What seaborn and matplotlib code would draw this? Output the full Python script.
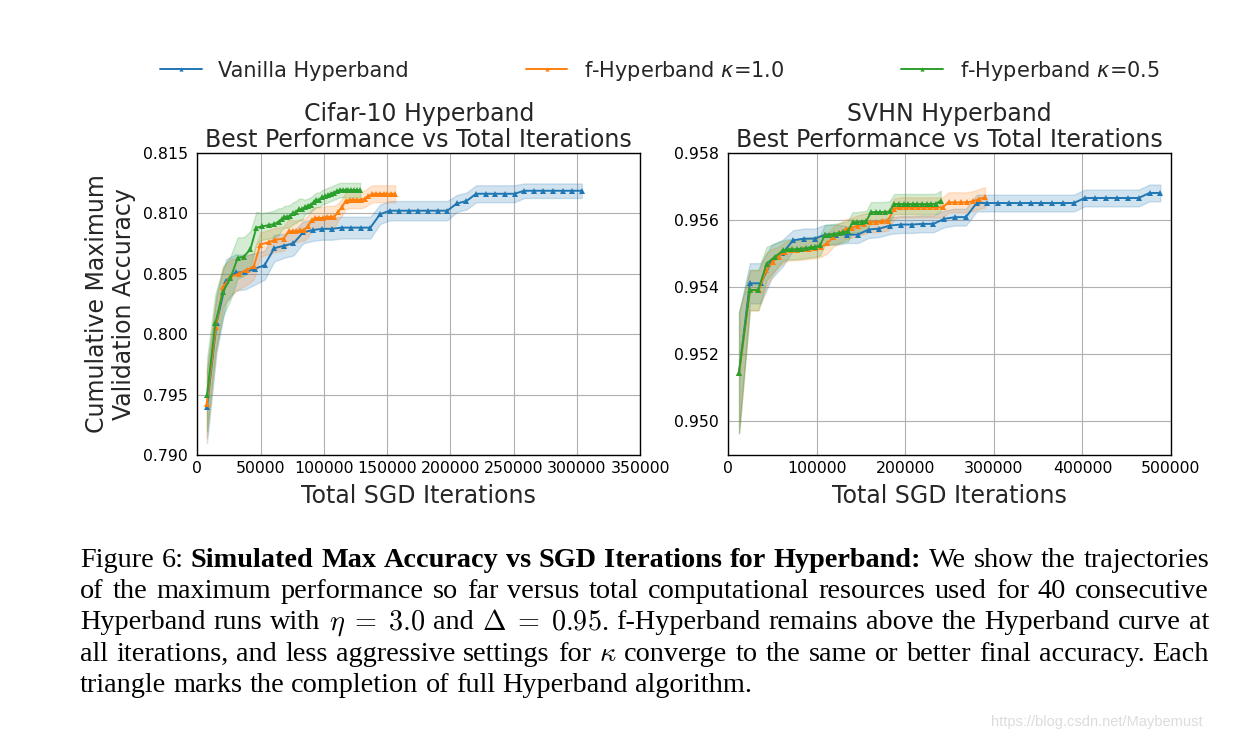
import matplotlib
matplotlib.use("Agg")
import matplotlib.pyplot as plt
import matplotlib.transforms as mtransforms
import pandas as pd
import seaborn as sns

# Legend / series names
methods = ["Vanilla Hyperband", "f-Hyperband $\\kappa$=1.0", "f-Hyperband $\\kappa$=0.5"]
colors = ["#1f77b4", "#ff7f0e", "#2ca02c"]

# Cifar-10 (left panel)
cifar_x_vanilla = [7600, 15200, 22800, 30400, 38000, 45600, 53200, 60800, 68400, 76000,
                   83600, 91200, 98800, 106400, 114000, 121600, 129200, 136800, 144400, 152000,
                   159600, 167200, 174800, 182400, 190000, 197600, 205200, 212800, 220400, 228000,
                   235600, 243200, 250800, 258400, 266000, 273600, 281200, 288800, 296400, 304000]
cifar_y_vanilla = [0.7940, 0.8009, 0.8044, 0.8051, 0.8051, 0.8054, 0.8057, 0.8071, 0.8073, 0.8075,
                   0.8084, 0.8086, 0.8087, 0.8087, 0.8088, 0.8088, 0.8088, 0.8088, 0.8099, 0.8102,
                   0.8102, 0.8102, 0.8102, 0.8102, 0.8102, 0.8102, 0.8108, 0.8110, 0.8116, 0.8116,
                   0.8116, 0.8116, 0.8116, 0.81185, 0.81185, 0.81185, 0.81185, 0.81185, 0.81185, 0.81185]
cifar_err_vanilla = [0.0030, 0.0024, 0.0018, 0.0015, 0.0014, 0.0013, 0.0012, 0.0011, 0.0010, 0.0010,
                     0.0009, 0.0009, 0.0009, 0.0009, 0.0009, 0.0009, 0.0009, 0.0009, 0.0008, 0.0008,
                     0.0008, 0.0008, 0.0008, 0.0008, 0.0008, 0.0008, 0.0007, 0.0007, 0.0007, 0.0007,
                     0.0007, 0.0007, 0.0007, 0.0006, 0.0006, 0.0006, 0.0006, 0.0006, 0.0006, 0.0006]

cifar_x_k10 = [7400, 14600, 20300, 26100, 32700, 39300, 44600, 49800, 56400, 61700,
               68300, 72300, 75300, 78300, 81300, 84300, 87300, 90300, 93300, 96300,
               99300, 102300, 105300, 108300, 111300, 114300, 117300, 120300, 123300, 126300,
               129300, 132300, 135300, 138300, 141300, 144300, 147300, 150300, 153300, 156300]
cifar_y_k10 = [0.7942, 0.8006, 0.8039, 0.8047, 0.8050, 0.8053, 0.8056, 0.8074, 0.8076, 0.8078,
               0.8079, 0.8085, 0.8085, 0.8085, 0.8086, 0.8086, 0.8089, 0.8094, 0.8096, 0.8096,
               0.8096, 0.8097, 0.8097, 0.8097, 0.8101, 0.8105, 0.8110, 0.8111, 0.8111, 0.8111,
               0.8111, 0.8112, 0.8114, 0.8116, 0.8116, 0.8116, 0.8116, 0.8116, 0.8116, 0.8116]
cifar_err_k10 = [0.0028, 0.0022, 0.0017, 0.0015, 0.0013, 0.0012, 0.0011, 0.0010, 0.0010, 0.0010,
                 0.0010, 0.0010, 0.0009, 0.0009, 0.0009, 0.0009, 0.0009, 0.0009, 0.0009, 0.0009,
                 0.0009, 0.0009, 0.0009, 0.0009, 0.0007, 0.0007, 0.0007, 0.0007, 0.0007, 0.0007,
                 0.0007, 0.0007, 0.0007, 0.0007, 0.0007, 0.0007, 0.0007, 0.0007, 0.0007, 0.0007]

cifar_x_k05 = [7700, 14200, 20300, 26100, 31900, 36700, 41900, 46700, 51200, 56400,
               60900, 64300, 66600, 68900, 71200, 73500, 75800, 78100, 80400, 82700,
               85000, 87300, 89600, 91900, 94200, 96500, 98800, 101100, 103400, 105700,
               108000, 110300, 112600, 114900, 117200, 119500, 121800, 124100, 126400, 128700]
cifar_y_k05 = [0.7950, 0.8009, 0.8035, 0.8046, 0.8063, 0.8064, 0.8070, 0.8088, 0.8089, 0.8090,
               0.8091, 0.8093, 0.8095, 0.8097, 0.8097, 0.8098, 0.8100, 0.8101, 0.8103, 0.8103,
               0.8105, 0.8106, 0.8107, 0.8109, 0.8111, 0.8111, 0.8113, 0.8114, 0.8115, 0.8116,
               0.8117, 0.8118, 0.8119, 0.8119, 0.8119, 0.8119, 0.8119, 0.8119, 0.8119, 0.8119]
cifar_err_k05 = [0.0030, 0.0024, 0.0020, 0.0018, 0.0017, 0.0016, 0.0015, 0.0013, 0.0011, 0.0011,
                 0.0011, 0.0011, 0.0009, 0.0009, 0.0009, 0.0009, 0.0009, 0.0009, 0.0009, 0.0009,
                 0.0006, 0.0006, 0.0006, 0.0006, 0.0006, 0.0006, 0.0006, 0.0006, 0.0006, 0.0006,
                 0.0006, 0.0006, 0.0006, 0.0006, 0.0006, 0.0006, 0.0006, 0.0006, 0.0006, 0.0006]

# SVHN (right panel)
svhn_x_vanilla = [12200, 24400, 36600, 48800, 61000, 73200, 85400, 97600, 109800, 122000,
                  134200, 146400, 158600, 170800, 183000, 195200, 207400, 219600, 231800, 244000,
                  256200, 268400, 280600, 292800, 305000, 317200, 329400, 341600, 353800, 366000,
                  378200, 390400, 402600, 414800, 427000, 439200, 451400, 463600, 475800, 488000]
svhn_y_vanilla = [0.95145, 0.95411, 0.95411, 0.95475, 0.95500, 0.95539, 0.95544, 0.95544, 0.95556, 0.95556,
                  0.95556, 0.95556, 0.95571, 0.95574, 0.95583, 0.95586, 0.95586, 0.95588, 0.95588, 0.95603,
                  0.95608, 0.95608, 0.95650, 0.95650, 0.95650, 0.95650, 0.95650, 0.95650, 0.95650, 0.95650,
                  0.95650, 0.95650, 0.95665, 0.95665, 0.95665, 0.95665, 0.95665, 0.95665, 0.95680, 0.95680]
svhn_err_vanilla = [0.0018, 0.0006, 0.0006, 0.0005, 0.0004, 0.0003, 0.0003, 0.0003, 0.0003, 0.0003,
                    0.00025, 0.00025, 0.00025, 0.00025, 0.00025, 0.00025, 0.00025, 0.00025, 0.00025, 0.00025,
                    0.00025, 0.00025, 0.00025, 0.00025, 0.00025, 0.00025, 0.00025, 0.00025, 0.00025, 0.00025,
                    0.00025, 0.00025, 0.00025, 0.00025, 0.00025, 0.00025, 0.00025, 0.00025, 0.00025, 0.00025]

svhn_x_k10 = [12400, 24500, 34200, 43000, 50000, 57000, 64000, 70800, 77700, 84500,
              91400, 98200, 105100, 111900, 118800, 125600, 132500, 139300, 146200, 153000,
              159900, 166700, 173600, 180400, 187300, 194100, 201000, 207800, 214700, 221500,
              228400, 235200, 242100, 248900, 255800, 262600, 269500, 276300, 283200, 290000]
svhn_y_k10 = [0.95145, 0.95390, 0.95390, 0.95450, 0.95475, 0.95490, 0.95505, 0.95510, 0.95510, 0.95512,
              0.95514, 0.95516, 0.95520, 0.95530, 0.95550, 0.95560, 0.95572, 0.95576, 0.95583, 0.95588,
              0.95593, 0.95593, 0.95596, 0.95598, 0.95633, 0.95637, 0.95637, 0.95637, 0.95637, 0.95637,
              0.95637, 0.95637, 0.95637, 0.95652, 0.95652, 0.95652, 0.95652, 0.95655, 0.95662, 0.95667]
svhn_err_k10 = [0.0018, 0.0006, 0.0006, 0.0005, 0.0004, 0.0003, 0.0003, 0.0003, 0.0003, 0.0003,
                0.0003, 0.0003, 0.0003, 0.0003, 0.0003, 0.0003, 0.0003, 0.0003, 0.0003, 0.0003,
                0.0003, 0.0003, 0.0003, 0.0003, 0.0003, 0.0003, 0.0003, 0.0003, 0.0003, 0.0003,
                0.0003, 0.0003, 0.0003, 0.0003, 0.0003, 0.0003, 0.0003, 0.0003, 0.0003, 0.0003]

svhn_x_k05 = [12100, 24500, 33900, 43400, 52700, 62100, 67000, 72200, 77500, 82700,
              88000, 93200, 98400, 103700, 108900, 114200, 119400, 124600, 129900, 135100,
              140400, 145600, 150800, 156100, 161300, 166600, 171800, 177000, 182300, 187500,
              192800, 198000, 203200, 208500, 213700, 219000, 224200, 229400, 234700, 240000]
svhn_y_k05 = [0.95145, 0.95391, 0.95391, 0.95470, 0.95490, 0.95509, 0.95512, 0.95512, 0.95513, 0.95514,
              0.95516, 0.95518, 0.95520, 0.95524, 0.95554, 0.95556, 0.95558, 0.95560, 0.95563, 0.95566,
              0.95593, 0.95593, 0.95595, 0.95597, 0.95623, 0.95623, 0.95623, 0.95623, 0.95625, 0.95647,
              0.95647, 0.95647, 0.95647, 0.95647, 0.95647, 0.95647, 0.95647, 0.95647, 0.95648, 0.95657]
svhn_err_k05 = [0.0018, 0.0006, 0.0006, 0.0005, 0.0004, 0.0003, 0.0003, 0.0003, 0.0003, 0.0003,
                0.0003, 0.0003, 0.0003, 0.0003, 0.0003, 0.0003, 0.0003, 0.0003, 0.0003, 0.0003,
                0.0003, 0.0003, 0.0003, 0.0003, 0.0003, 0.0003, 0.0003, 0.0003, 0.0003, 0.0003,
                0.0003, 0.0003, 0.0003, 0.0003, 0.0003, 0.0003, 0.0003, 0.0003, 0.0003, 0.0003]

# Caption lines: (text, kind) with kind n=normal, b=bold, m=math
caption = [
    [("Figure 6:", "n"), ("Simulated Max Accuracy vs SGD Iterations for Hyperband:", "b"),
     ("We show the trajectories", "n")],
    [("of the maximum performance so far versus total computational resources used for 40 consecutive", "n")],
    [("Hyperband runs with", "n"), ("$\\eta\\;=\\;3.0$", "m"), ("and", "n"),
     ("$\\Delta\\;=\\;0.95$.", "m"), ("f-Hyperband remains above the Hyperband curve at", "n")],
    [("all iterations, and less aggressive settings for", "n"), ("$\\kappa$", "m"),
     ("converge to the same or better final accuracy. Each", "n")],
    [("triangle marks the completion of full Hyperband algorithm.", "n")],
]


def make_df(xs, ys, errs):
    parts = []
    for m, x, y, e in zip(methods, xs, ys, errs):
        parts.append(pd.DataFrame({"iters": x, "acc": y, "err": e, "method": m}))
    return pd.concat(parts, ignore_index=True)


df_cifar = make_df([cifar_x_vanilla, cifar_x_k10, cifar_x_k05],
                   [cifar_y_vanilla, cifar_y_k10, cifar_y_k05],
                   [cifar_err_vanilla, cifar_err_k10, cifar_err_k05])
df_svhn = make_df([svhn_x_vanilla, svhn_x_k10, svhn_x_k05],
                  [svhn_y_vanilla, svhn_y_k10, svhn_y_k05],
                  [svhn_err_vanilla, svhn_err_k10, svhn_err_k05])

sns.set_theme(style="whitegrid", rc={
    "axes.edgecolor": "black",
    "axes.linewidth": 1.0,
    "grid.color": "#b0b0b0",
    "grid.linewidth": 0.8,
    "xtick.major.size": 0,
    "ytick.major.size": 0,
})
plt.rcParams["font.family"] = ["DejaVu Sans"]

fig = plt.figure(figsize=(12.53, 7.45), dpi=100)
ax1 = fig.add_axes([0.1575, 0.3893, 0.3533, 0.4058])
ax2 = fig.add_axes([0.5812, 0.3893, 0.3533, 0.4058])


def draw_panel(ax, df, title, xlim, ylim, yticks, xticks):
    for m, c in zip(methods, colors):
        d = df[df["method"] == m]
        ax.fill_between(d["iters"], d["acc"] - d["err"], d["acc"] + d["err"],
                        color=c, alpha=0.2, linewidth=1)
    sns.lineplot(data=df, x="iters", y="acc", hue="method", hue_order=methods,
                 palette=colors, marker="^", markersize=5, markeredgewidth=0,
                 linewidth=1.4, errorbar=None, legend=False, ax=ax)
    ax.set_xlim(*xlim)
    ax.set_ylim(*ylim)
    ax.set_xticks(xticks)
    ax.set_yticks(yticks)
    ax.ticklabel_format(axis="x", style="plain", useOffset=False)
    ax.tick_params(axis="both", labelsize=11.3, colors="black")
    ax.tick_params(axis="y", pad=7)
    ax.tick_params(axis="x", pad=4)
    ax.set_title(title, fontsize=17, pad=4, linespacing=1.1)
    ax.set_xlabel("Total SGD Iterations", fontsize=17, labelpad=6)
    ax.set_ylabel("")
    for s in ax.spines.values():
        s.set_color("black")


draw_panel(ax1, df_cifar, "Cifar-10 Hyperband\nBest Performance vs Total Iterations",
           (0, 350000), (0.790, 0.815), [0.790, 0.795, 0.800, 0.805, 0.810, 0.815],
           [0, 50000, 100000, 150000, 200000, 250000, 300000, 350000])
draw_panel(ax2, df_svhn, "SVHN Hyperband\nBest Performance vs Total Iterations",
           (0, 500000), (0.949, 0.958), [0.950, 0.952, 0.954, 0.956, 0.958],
           [0, 100000, 200000, 300000, 400000, 500000])
ax1.set_ylabel("Cumulative Maximum\nValidation Accuracy", fontsize=17, labelpad=5, linespacing=1.15)

handles = ax1.get_lines()[:3]
fig.legend(handles, methods, loc="lower left", bbox_to_anchor=(0.121, 0.878, 0.811, 0.05),
           mode="expand", ncol=3, frameon=False, fontsize=15, markerscale=0.6,
           handlelength=2.0, borderaxespad=0)

# caption text, justified word by word in pixel coordinates
renderer = fig.canvas.get_renderer()
ident = mtransforms.IdentityTransform()
cap_size = 20.3
x_left, x_right = 80, 1209
space_px = 0.25 * cap_size * 100 / 72
for i, line in enumerate(caption):
    y = 745 - 567 - 31.2 * i
    words = []
    for text, kind in line:
        if kind == "m":
            words.append((text, "normal"))
        else:
            for w in text.split():
                words.append((w, "bold" if kind == "b" else "normal"))
    arts = [fig.text(0, y, w, transform=ident, fontsize=cap_size, family="Liberation Serif",
                     weight=wt, math_fontfamily="cm", va="baseline", color="black")
            for w, wt in words]
    widths = [a.get_window_extent(renderer).width for a in arts]
    last = i == len(caption) - 1
    gap = space_px if last else (x_right - x_left - sum(widths)) / (len(arts) - 1)
    x = x_left
    for a, w in zip(arts, widths):
        a.set_x(x)
        x += w + gap

fig.text(1203, 745 - 726, "https://blog.csdn.net/Maybemust", transform=ident,
         fontsize=10.5, family="Liberation Sans", color="#dcdcdc", ha="right", va="baseline")

fig.savefig("out.png", dpi=100)
